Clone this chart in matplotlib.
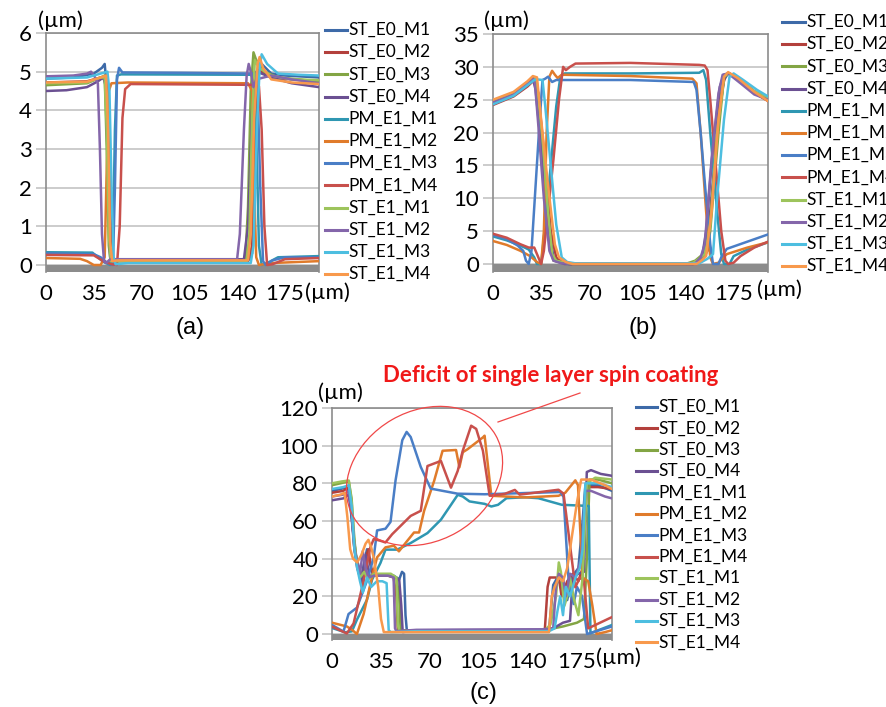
import matplotlib
matplotlib.use("Agg")
import matplotlib.pyplot as plt
import matplotlib.transforms as mtransforms
from matplotlib.lines import Line2D
from matplotlib.patches import Ellipse

# series names and colours (Excel style)
series_names = ["ST_E0_M1", "ST_E0_M2", "ST_E0_M3", "ST_E0_M4",
                "PM_E1_M1", "PM_E1_M2", "PM_E1_M3", "PM_E1_M4",
                "ST_E1_M1", "ST_E1_M2", "ST_E1_M3", "ST_E1_M4"]
series_colors = ["#3D6AA8", "#B3403C", "#83A544", "#6B5092",
                 "#2F97B2", "#E07B2B", "#4A7EC6", "#C8504C",
                 "#9DC45C", "#8466AA", "#4DBEE0", "#F8994C"]

x_ticks = [0, 35, 70, 105, 140, 175]

# ---- panel (a): profile breakpoints (x um, height um)
a_profiles = [
    [(0, 4.82), (20, 4.85), (35, 4.95), (41, 5.1), (43, 5.2), (44.5, 4.6), (46, 2.5), (47.5, 0.3), (49, 0.02),
     (52, 0.1), (148, 0.1), (151, 0.3), (153, 3.0), (155.5, 5.2), (158, 5.2), (165, 4.95), (175, 4.9), (200, 4.85)],
    [(0, 4.72), (30, 4.75), (40, 4.85), (44, 4.8), (46, 3), (48, 0.3), (50, 0.05), (53, 0.12), (148, 0.12),
     (151, 0.5), (153.5, 3.5), (155.5, 5.05), (158, 5.0), (165, 4.85), (180, 4.8), (200, 4.75)],
    [(0, 4.65), (30, 4.7), (40, 4.85), (43, 4.9), (44.5, 3), (46, 0.5), (47.5, 0.05), (50, 0.1), (146, 0.1),
     (148, 1.5), (150, 4.5), (152, 5.5), (154, 5.3), (160, 5.0), (170, 4.85), (185, 4.8), (200, 4.75)],
    [(0, 4.5), (15, 4.52), (30, 4.6), (38, 4.75), (42, 4.85), (44, 4.6), (45.5, 2.0), (47, 0.2), (49, 0.12),
     (145, 0.15), (148, 1.0), (151, 4.0), (154, 5.0), (158, 4.95), (165, 4.85), (180, 4.7), (200, 4.6)],
    [(0, 0.33), (34, 0.32), (38, 0.2), (42, 0.08), (47, 0.0), (49, 0.5), (50.5, 3.5), (52, 4.9), (55, 4.93),
     (150, 4.92), (152, 4.85), (154, 3.5), (156, 0.5), (158, 0.0), (162, 0.05), (170, 0.2), (200, 0.23)],
    [(0, 0.18), (25, 0.16), (30, 0.1), (35, 0.0), (40, 0.0), (43, 0.2), (44.5, 2.5), (46, 4.5), (48, 4.7),
     (60, 4.72), (148, 4.7), (151, 4.5), (152.5, 2), (154, 0.2), (156, 0.0), (165, 0.05), (200, 0.1)],
    [(0, 0.3), (35, 0.28), (40, 0.2), (45, 0.05), (49, 0.0), (50.5, 2.0), (52, 4.8), (53.5, 5.1), (56, 4.98),
     (100, 4.97), (153, 4.95), (155, 4.6), (157, 2.0), (159, 0.1), (161, 0.0), (166, 0.12), (175, 0.2), (200, 0.2)],
    [(0, 0.26), (35, 0.25), (42, 0.1), (48, 0.02), (52, 0.0), (54, 1.0), (56, 3.8), (58, 4.55), (62, 4.68),
     (150, 4.66), (156, 4.62), (158, 3.5), (160, 1.0), (162, 0.0), (166, 0.02), (175, 0.15), (200, 0.18)],
    [(0, 4.7), (30, 4.72), (40, 4.85), (43, 4.85), (44.5, 3.5), (46, 0.8), (47.5, 0.1), (50, 0.1), (147, 0.1),
     (149, 0.8), (151, 3.8), (153, 5.3), (156, 5.1), (165, 4.9), (180, 4.8), (200, 4.78)],
    [(0, 4.88), (20, 4.9), (30, 4.95), (33, 5.0), (36, 4.85), (38, 4.7), (39.5, 3.0), (41, 0.8), (42.5, 0.1),
     (44, 0.05), (47, 0.15), (140, 0.15), (142, 0.8), (145, 3.5), (147, 4.9), (148.5, 5.2), (150, 5.0),
     (152, 4.6), (154, 4.8), (165, 4.9), (180, 4.8), (200, 4.7)],
    [(0, 4.82), (30, 4.85), (40, 4.95), (45, 5.0), (46.5, 4.5), (48, 2), (49.5, 0.2), (51, 0.02), (60, 0.05),
     (150, 0.05), (152, 0.5), (154.5, 3.5), (156.5, 5.1), (158, 5.45), (162, 5.2), (170, 4.95), (185, 4.92),
     (200, 4.9)],
    [(0, 4.72), (30, 4.74), (40, 4.85), (44, 4.9), (45.5, 3.5), (47, 0.6), (48.5, 0.1), (52, 0.12), (148, 0.12),
     (150, 0.8), (152.5, 3.8), (155, 5.2), (156.5, 5.38), (159, 5.1), (165, 4.8), (180, 4.72), (200, 4.68)],
]

# ---- panel (b)
b_profiles = [
    [(0, 24.5), (15, 25.8), (25, 27.3), (30, 28.2), (32, 27.0), (36, 18), (41, 5), (44, 1.0), (50, 0.5), (55, 0.0),
     (145, 0.0), (150, 0.5), (154, 1.2), (158, 8), (164, 22), (168, 28), (171, 29), (180, 28), (190, 26.3),
     (200, 25.2)],
    [(0, 24.2), (15, 25.5), (25, 27.0), (30, 28.0), (33, 26), (38, 15), (42, 5), (46, 1), (52, 0.2), (56, 0.0),
     (146, 0.0), (152, 0.8), (156, 2), (160, 12), (165, 25), (169, 28.8), (172, 29), (182, 27.5), (192, 25.8),
     (200, 24.8)],
    [(0, 24.8), (15, 26), (25, 27.5), (30, 28.3), (32, 27), (35, 20), (39, 10), (42, 2), (44, 0.5), (52, 0.2),
     (58, 0.0), (140, 0.0), (147, 0.5), (151, 1.2), (155, 1.6), (158, 5), (164, 20), (168, 28.5), (171, 29),
     (180, 27.8), (190, 26.2), (200, 25.2)],
    [(0, 24.4), (15, 25.7), (25, 27.3), (29, 28.2), (31, 26.5), (34, 20), (38, 10), (42, 2), (45, 0.5), (52, 0.0),
     (148, 0.0), (152, 1.0), (155, 5), (160, 18), (165, 27), (168, 28.8), (172, 29), (180, 27.8), (190, 26),
     (200, 25)],
    [(0, 4.2), (10, 3.6), (20, 2.8), (26, 2.2), (30, 1.0), (32, 0.0), (35, 0.0), (38, 6), (42, 15), (46, 24),
     (49, 28.5), (52, 29), (100, 29), (150, 29.1), (153, 29.5), (155, 28), (158, 20), (163, 8), (166, 1.5),
     (168, 0.0), (172, 0.0), (175, 1.2), (185, 2.2), (200, 3.3)],
    [(0, 3.5), (10, 2.9), (20, 2.0), (27, 1.2), (32, 0.3), (35, 0.0), (37, 5), (39, 20), (41, 28.5), (43, 29.4),
     (45, 28.8), (47, 28.3), (50, 28.8), (100, 28.6), (145, 28.2), (148, 27.5), (151, 20), (155, 8), (158, 1),
     (160, 0.0), (164, 0.2), (170, 1.5), (185, 2.5), (200, 3.3)],
    [(0, 4.4), (10, 3.8), (18, 2.8), (22, 2.0), (24, 0.5), (26, 0.0), (28, 2), (31, 12), (34, 22), (36, 28),
     (38, 28.2), (40, 28.5), (43, 27.7), (46, 28), (100, 28), (146, 27.7), (148, 26.5), (151, 20), (155, 10),
     (158, 3), (160, 0.0), (164, 0.0), (166, 1), (170, 2.3), (185, 3.4), (200, 4.5)],
    [(0, 4.6), (10, 4.0), (20, 3.0), (26, 2.5), (30, 2.5), (33, 1.0), (35, 0.0), (37, 2), (40, 8), (44, 16),
     (48, 25), (51, 30), (53, 29.5), (56, 30), (60, 30.5), (100, 30.6), (150, 30.3), (154, 30.2), (156, 29.5),
     (158, 25), (162, 15), (166, 5), (169, 0.5), (171, 0.0), (175, 0.2), (180, 1.2), (190, 2.5), (200, 3.4)],
    [(0, 24.7), (15, 25.9), (25, 27.4), (30, 28.3), (32, 27.5), (36, 19), (40, 8), (43, 1.5), (46, 0.5),
     (55, 0.1), (145, 0.1), (150, 0.8), (154, 1.5), (158, 6), (163, 20), (168, 28.5), (171, 29), (180, 28),
     (190, 26.3), (200, 25.3)],
    [(0, 24.6), (15, 25.8), (25, 27.5), (29, 28.3), (30.5, 27.5), (33, 21), (37, 10), (41, 2), (44, 0.5),
     (50, 0.1), (147, 0.1), (151, 1.0), (154, 3), (159, 16), (164, 26), (167, 28.8), (171, 29), (180, 27.5),
     (190, 25.8), (200, 25)],
    [(0, 24.3), (15, 25.6), (25, 27.2), (30, 28.0), (32, 28.1), (36, 28), (38, 24), (42, 15), (46, 6), (50, 1),
     (54, 0.3), (60, 0.1), (150, 0.1), (156, 0.8), (160, 1.5), (163, 10), (168, 22), (172, 28.5), (175, 29),
     (182, 28), (192, 26.5), (200, 25.5)],
    [(0, 25.0), (15, 26.2), (25, 27.8), (29, 28.6), (32, 28.4), (35, 22), (40, 12), (45, 3), (48, 1), (53, 0.3),
     (58, 0.0), (148, 0.0), (152, 0.6), (155, 1.2), (159, 8), (164, 22), (168, 28.5), (171, 29.2), (178, 28.3),
     (190, 26.2), (200, 24.8)],
]

# ---- panel (c)
c_profiles = [
    [(0, 76), (6, 77), (11, 78), (13, 70), (15, 55), (17, 42), (19, 36), (21, 30), (23, 38), (25, 45), (27, 38),
     (29, 32), (33, 31), (44, 31), (48, 29), (50, 33), (51.5, 32), (52.5, 10), (53.5, 1.5), (70, 1.8), (152, 2),
     (155, 2), (156, 10), (158, 26), (161, 30), (164, 25), (168, 18), (171, 30), (176, 35), (179, 60), (181, 79),
     (190, 79), (200, 76)],
    [(0, 75), (8, 76), (12, 78), (14, 65), (16, 45), (18, 38), (20, 30), (22, 25), (24, 40), (26, 45), (28, 35),
     (30, 31), (40, 31), (44, 30), (46, 20), (47, 2), (60, 1.5), (150, 1.5), (152, 2), (154, 25), (155.5, 30),
     (162, 30), (164, 20), (168, 28), (172, 32), (176, 28), (179, 35), (182, 78), (190, 78), (200, 77)],
    [(0, 79), (6, 80), (12, 81), (14, 72), (16, 50), (18, 36), (20, 30), (23, 35), (26, 30), (30, 32), (40, 31),
     (46, 30), (48, 20), (49, 2), (60, 1.8), (150, 2), (155, 2.5), (165, 4), (175, 6), (180, 8), (182, 40),
     (184, 82), (190, 82), (200, 80)],
    [(0, 71), (8, 72), (12, 74), (14, 62), (16, 45), (18, 35), (21, 28), (24, 42), (27, 30), (30, 31), (42, 31),
     (48, 29), (49.5, 15), (50.5, 1), (60, 2), (150, 2.3), (158, 3), (165, 6), (170, 7), (172, 30), (176, 32),
     (180, 33), (182, 86), (185, 87), (192, 85), (200, 84)],
    [(0, 3.2), (9.4, 0.9), (14.2, 1.4), (17.8, 7.6), (25, 18.2), (28.6, 28.8), (34.6, 37.7), (38.2, 44.8),
     (46.6, 44.8), (56.2, 48.3), (68.2, 53.6), (77.8, 60.7), (85, 68.6), (89.8, 73.9), (93.4, 73), (98.2, 70.4),
     (109, 69.1), (113.8, 67.7), (118.6, 68.6), (124.6, 72.1), (137.8, 72.6), (147.4, 72.1), (164.2, 68.6),
     (183.4, 68), (184.6, 0.4), (200, 4.8)],
    [(0, 6), (10.6, 4), (14.2, 2.3), (17.8, 0), (22.6, 10.6), (27.4, 26.5), (32.2, 40.7), (38.2, 46), (44.2, 46.9),
     (47.8, 43.9), (53.8, 49.5), (58.6, 53.9), (62.2, 53.9), (65.8, 65.4), (73, 81.4), (79, 97.3), (88.6, 97.7),
     (91, 88.5), (93.4, 96.5), (97, 98.2), (107.8, 104.4), (109, 105.3), (113.8, 73.4), (137.8, 72.5),
     (161.8, 73.4), (166.6, 75), (173.8, 81.6), (175.7, 79), (179, 30), (183, 28), (186, 15), (189, 0),
     (195, 1), (200, 2)],
    [(0, 4.8), (8.2, 1.3), (11.8, 10.6), (17.8, 14), (25, 28.3), (29.8, 40.7), (32.2, 55), (38.2, 55.9),
     (41.8, 59.5), (45.4, 81.6), (50.2, 102.9), (53.3, 107.3), (56.2, 104.6), (63.4, 88.7), (70.5, 77.2),
     (89.8, 74.5), (109, 74.2), (163, 75.4), (165.4, 72.8), (169, 28.3), (172.6, 15.9), (175, 25), (178.6, 20),
     (182.2, 0), (200, 4)],
    [(0, 3.9), (10.6, 0.3), (15.4, 5.6), (22.6, 28.3), (27.4, 46), (29.8, 50.4), (34.6, 49.5), (38.2, 48.6),
     (43, 53), (50.2, 58.3), (56.2, 62.7), (63.4, 65.4), (68.2, 89.2), (77.8, 91.9), (85, 77.7), (89.8, 86.6),
     (93.4, 97.3), (99.4, 110.6), (103, 108.9), (107.8, 97.3), (112.6, 73.4), (123.4, 74.4), (130.6, 76.5),
     (134, 74), (161.8, 76.6), (165.4, 74.5), (173.8, 24.8), (177, 30), (180, 28), (183, 3), (200, 9)],
    [(0, 80), (7, 81), (12, 81.5), (14, 70), (16, 48), (18, 37), (20, 30), (23, 33), (26, 29), (30, 32), (42, 32),
     (46, 30), (47, 5), (48, 1.5), (60, 1.8), (152, 2), (156, 5), (160, 20), (162, 38), (163.5, 33), (166, 15),
     (168, 20), (170, 30), (173, 18), (176, 10), (179, 30), (182, 80), (188, 83), (200, 82)],
    [(0, 73), (8, 74), (12, 76), (14, 66), (16, 46), (18, 38), (20, 32), (22, 44), (24, 35), (26, 30), (30, 31),
     (40, 31), (44, 30), (45, 3), (46, 1.5), (60, 2.2), (150, 2.5), (158, 3), (160, 25), (162, 32), (165, 30),
     (167, 20), (170, 32), (174, 30), (178, 40), (181, 76), (185, 76), (195, 73), (200, 72)],
    [(0, 77), (8, 78), (12, 79), (14, 68), (16, 45), (18, 35), (20, 28), (22, 22), (25, 30), (28, 25), (32, 28),
     (36, 28), (39, 27), (40.5, 2), (42, 1), (60, 1.5), (155, 1.5), (159, 3), (161, 12), (163, 20), (165, 10),
     (167, 25), (170, 20), (174, 30), (177, 35), (179, 45), (181, 80), (190, 80), (200, 78)],
    [(0, 73), (6, 74), (9, 75), (11, 62), (13, 45), (15, 40), (18, 38), (21, 42), (24, 48), (26, 50), (28, 46),
     (30, 40), (33, 25), (35, 8), (37, 1), (60, 1), (155, 1), (157, 20), (159, 25), (162, 30), (165, 28),
     (168, 35), (171, 50), (175, 70), (178, 82), (185, 82), (195, 79), (200, 77)],
]

W, H = 887, 707
fig = plt.figure(figsize=(W / 100, H / 100), dpi=100)
P = mtransforms.Affine2D().scale(1 / W, -1 / H).translate(0, 1) + fig.transFigure

tick_font = ["Lato", "DejaVu Sans"]


def draw_panel(box, ymax, ystep, zero_px, profiles, legend, um_y, um_x, label):
    left, top, right, bottom = box
    ax = fig.add_axes([left / W, 1 - bottom / H, (right - left) / W, (bottom - top) / H])
    per_px = ymax / (zero_px - top)
    ylow = -(bottom - zero_px) * per_px
    ax.set_xlim(0, 200)
    ax.set_ylim(ylow, ymax)
    for pts, col in zip(profiles, series_colors):
        xs = [p[0] for p in pts]
        ys = [p[1] for p in pts]
        ax.plot(xs, ys, color=col, lw=1.8, zorder=3, solid_joinstyle="round")
    ax.axhspan(ylow, 0, color="#8C8C8C", lw=0, zorder=2)
    yt = list(range(0, ymax + 1, ystep))
    ax.set_yticks(yt)
    ax.set_yticklabels([str(v) for v in yt], fontsize=16, family=tick_font)
    ax.set_xticks(x_ticks)
    ax.set_xticklabels([str(v) for v in x_ticks], fontsize=16, family=tick_font)
    ax.grid(axis="y", color="#C4C4C4", lw=1.2, zorder=1)
    ax.tick_params(axis="y", length=7, color="#C4C4C4", width=1.2, pad=3)
    ax.tick_params(axis="x", length=0, pad=9)
    for s in ["left", "top", "right"]:
        ax.spines[s].set_color("#8C8C8C")
        ax.spines[s].set_linewidth(1.2)
    ax.spines["bottom"].set_visible(False)
    # axis unit labels
    fig.text(um_y[0] / W, 1 - um_y[1] / H, "(µm)", fontsize=16, family=tick_font,
             ha="center", va="center")
    fig.text(um_x[0] / W, 1 - um_x[1] / H, "(µm)", fontsize=16, family=tick_font,
             ha="left", va="center")
    fig.text(label[0] / W, 1 - label[1] / H, label[2], fontsize=17,
             family=["Liberation Sans", "DejaVu Sans"], ha="center", va="center")
    # legend
    lx0, lx1, ly0, ldy = legend
    for i, (name, col) in enumerate(zip(series_names, series_colors)):
        y = ly0 + i * ldy
        fig.add_artist(Line2D([lx0, lx1], [y, y], color=col, lw=2.2, transform=P))
        fig.text((lx1 + 1) / W, 1 - y / H, name, fontsize=12.5, family=tick_font,
                 ha="left", va="center")
    return ax


draw_panel((46, 33, 319, 272), 6, 1, 265, a_profiles, (325, 347, 30, 22.2),
           (60, 21), (305, 293), (190, 328, "(a)"))
draw_panel((493, 34, 768, 272), 35, 5, 264, b_profiles, (782, 805, 22, 22.2),
           (506, 21), (757, 290), (643, 328, "(b)"))
draw_panel((332, 408, 612, 640), 120, 20, 634, c_profiles, (636, 657, 407, 21.4),
           (340, 393), (596, 658), (483, 693, "(c)"))

# annotation of the deficit region
fig.text(551 / W, 1 - 375 / H, "Deficit of single layer spin coating", color="#F01818",
         fontsize=16, fontweight="bold", family=tick_font, ha="center", va="center")
fig.add_artist(Ellipse((424.5, 476), 164, 130, angle=-30, fill=False, ec="#F04848", lw=0.9,
                       transform=P))
fig.add_artist(Line2D([498, 580], [422, 393], color="#F04848", lw=0.9, transform=P))

fig.savefig("out.png", dpi=100)
